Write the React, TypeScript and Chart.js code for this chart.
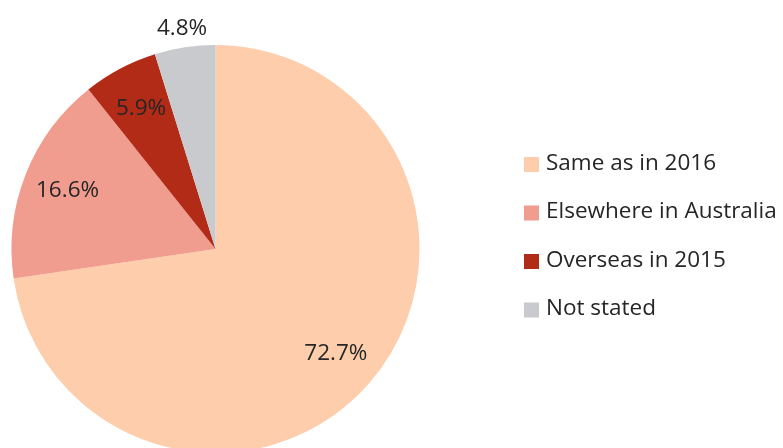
import React, { useEffect, useRef } from "react";
import { Chart, registerables } from "chart.js";

Chart.register(...registerables);

const categories = ["Same as in 2016", "Elsewhere in Australia", "Overseas in 2015", "Not stated"];
const values = [72.7, 16.6, 5.9, 4.8];
const colors = ["#FDCDAC", "#F09C8E", "#B22B16", "#C9CACE"];

const FONT = "'Open Sans', 'Noto Sans', sans-serif";
const TEXT_COLOR = "#262626";

const labelsPlugin = {
  id: "sliceLabels",
  afterDatasetsDraw(chart: any) {
    const ctx = chart.ctx;
    const meta = chart.getDatasetMeta(0);
    const total = values.reduce((a, b) => a + b, 0);
    ctx.save();
    ctx.font = `22.5px ${FONT}`;
    ctx.fillStyle = TEXT_COLOR;
    ctx.textAlign = "center";
    ctx.textBaseline = "middle";
    meta.data.forEach((arc: any, i: number) => {
      const { x, y, startAngle, endAngle, outerRadius } = arc.getProps(
        ["x", "y", "startAngle", "endAngle", "outerRadius"],
        true
      );
      const mid = (startAngle + endAngle) / 2;
      const pct = (values[i] / total) * 100;
      const r = pct < 5 ? outerRadius + 19 : outerRadius * 0.78;
      ctx.fillText(pct.toFixed(1) + "%", x + Math.cos(mid) * r, y + Math.sin(mid) * r);
    });
    ctx.restore();
  },
};

const legendPlugin = {
  id: "customLegend",
  afterDraw(chart: any) {
    const ctx = chart.ctx;
    const boxX = 524;
    const box = 15;
    const startY = 164.5;
    const step = 48.5;
    ctx.save();
    ctx.font = `22.5px ${FONT}`;
    ctx.textBaseline = "middle";
    ctx.textAlign = "left";
    categories.forEach((c, i) => {
      const cy = startY + i * step;
      ctx.fillStyle = colors[i];
      ctx.fillRect(boxX, cy - box / 2, box, box);
      ctx.fillStyle = TEXT_COLOR;
      ctx.fillText(c, boxX + box + 7, cy - 1);
    });
    ctx.restore();
  },
};

export default function App() {
  const ref = useRef<HTMLCanvasElement | null>(null);
  useEffect(() => {
    document.body.style.margin = "0";
    document.body.style.overflow = "hidden";
    const canvas = ref.current!;
    const chart = new Chart(canvas, {
      type: "pie",
      data: {
        labels: categories,
        datasets: [
          {
            data: values,
            backgroundColor: colors,
            borderWidth: 0,
          },
        ],
      },
      options: {
        responsive: false,
        animation: false,
        layout: { padding: { left: 11, top: 45, right: 363, bottom: 7 } },
        plugins: {
          legend: { display: false },
          tooltip: { enabled: false },
        },
      },
      plugins: [labelsPlugin, legendPlugin],
    });
    return () => chart.destroy();
  }, []);
  return (
    <div style={{ width: 783, height: 448, overflow: "hidden", background: "#fff" }}>
      <canvas ref={ref} width={783} height={460} style={{ display: "block" }} />
    </div>
  );
}
